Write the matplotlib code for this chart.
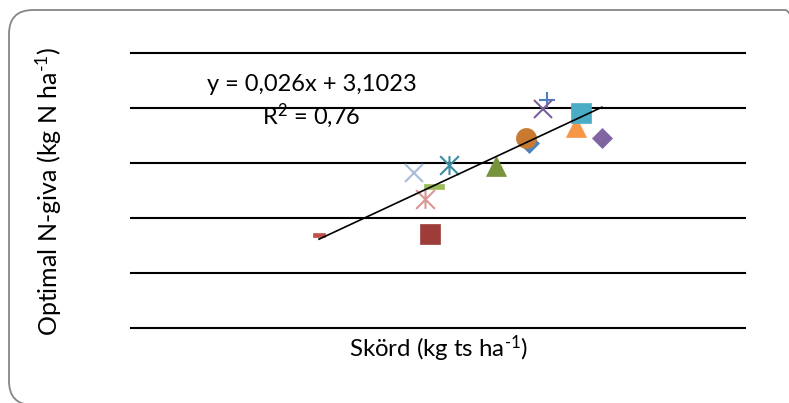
import numpy as np
import matplotlib
matplotlib.use("Agg")
import matplotlib.pyplot as plt
from matplotlib.path import Path
from matplotlib.patches import FancyBboxPatch
from matplotlib.transforms import IdentityTransform

# ---- data ----
yield_x = [10.37, 4.90, 9.51, 7.37, 8.29, 10.29, 10.83, 7.90, 12.27, 7.78, 11.60, 11.73, 10.74, 7.66]
n_opt = [168.6, 84.6, 147.0, 141.3, 148.3, 172.9, 207.5, 128.8, 172.6, 85.5, 182.5, 196.1, 199.3, 117.4]
eq_text = "y = 0,026x + 3,1023"
r2_text = "R$^{2}$ = 0,76"
y_ticks = [0, 50, 100, 150, 200, 250]

# ---- styles ----
plt.rcParams['font.family'] = ['Lato', 'DejaVu Sans']
plt.rcParams['mathtext.fontset'] = 'custom'
plt.rcParams['mathtext.rm'] = 'Lato'
plt.rcParams['mathtext.default'] = 'regular'

asterisk = Path([(0, -1), (0, 1), (-1, -1), (1, 1), (-1, 1), (1, -1)],
                [Path.MOVETO, Path.LINETO, Path.MOVETO, Path.LINETO, Path.MOVETO, Path.LINETO])
dash = [(-1, -0.25), (1, -0.25), (1, 0.25), (-1, 0.25), (-1, -0.25)]
small_dash = [(-1, -0.42), (1, -0.42), (1, 0.42), (-1, 0.42), (-1, -0.42)]

styles = [
    dict(marker='D', ms=10.2, color='#4F81BD'),
    dict(marker=small_dash, ms=8, color='#C0504D'),
    dict(marker='^', ms=14, color='#77933C'),
    dict(marker='x', ms=13.5, color='#A7BCDB', line=True),
    dict(marker=asterisk, ms=13.5, color='#3A8CA3', line=True),
    dict(marker='o', ms=14.4, color='#C77A30'),
    dict(marker='+', ms=12, color='#4F7EC0', line=True),
    dict(marker=dash, ms=14.4, color='#9BBB59'),
    dict(marker='D', ms=10.2, color='#8064A2'),
    dict(marker='s', ms=14.4, color='#9E3C3A'),
    dict(marker='^', ms=13.8, color='#F79646'),
    dict(marker='s', ms=14.4, color='#4BACC6'),
    dict(marker='x', ms=12.5, color='#7B5EA0', line=True),
    dict(marker=asterisk, ms=13.5, color='#D99694', line=True),
]

W, H = 789, 403
fig = plt.figure(figsize=(W / 100, H / 100), dpi=100)
fig.patch.set_facecolor('white')

# rounded chart-area border
border = FancyBboxPatch((9, -2), 800, H - 10 + 2,
                        boxstyle="round,pad=0,rounding_size=24",
                        transform=IdentityTransform(), fill=False,
                        edgecolor='#868686', linewidth=1.3)
fig.patches.append(border)

ax = fig.add_axes([131 / W, 75 / H, 614 / W, 274.7 / H])
ax.set_xlim(0, 16)
ax.set_ylim(0, 250)
ax.set_yticks(y_ticks)
ax.set_xticks([])
ax.tick_params(length=0, labelleft=False, labelbottom=False)
for s in ax.spines.values():
    s.set_visible(False)
ax.grid(axis='y', color='black', linewidth=1.5)
for gl in ax.get_ygridlines():
    gl.set_clip_on(False)
ax.set_axisbelow(True)

for x, y, st in zip(yield_x, n_opt, styles):
    if st.get('line'):
        ax.plot([x], [y], linestyle='none', marker=st['marker'], ms=st['ms'],
                markerfacecolor='none', markeredgecolor=st['color'],
                markeredgewidth=1.5, zorder=3)
    else:
        ax.plot([x], [y], linestyle='none', marker=st['marker'], ms=st['ms'],
                markerfacecolor=st['color'], markeredgecolor=st['color'],
                markeredgewidth=0.5, zorder=3)

# linear trendline
xa = np.array(yield_x)
ya = np.array(n_opt)
k, m = np.polyfit(xa, ya, 1)
xt = np.array([xa.min(), xa.max()])
ax.plot(xt, k * xt + m, color='black', linewidth=1.2, zorder=4)

ax.text(0.294, 0.885, eq_text, transform=ax.transAxes, ha='center', va='center',
        fontsize=17, color='black')
ax.text(0.294, 0.772, r2_text, transform=ax.transAxes, ha='center', va='center',
        fontsize=17, color='black')

fig.text(438 / W, 1 - 349 / H, "Skörd (kg ts ha$^{\\text{-}1}$)", ha='center', va='center',
         fontsize=17.3, color='black')
fig.text(49 / W, 1 - 191.5 / H, "Optimal N-giva (kg N ha$^{\\text{-}1}$)", ha='center',
         va='center', rotation=90, fontsize=18, color='black')

fig.savefig("out.png", dpi=100)
